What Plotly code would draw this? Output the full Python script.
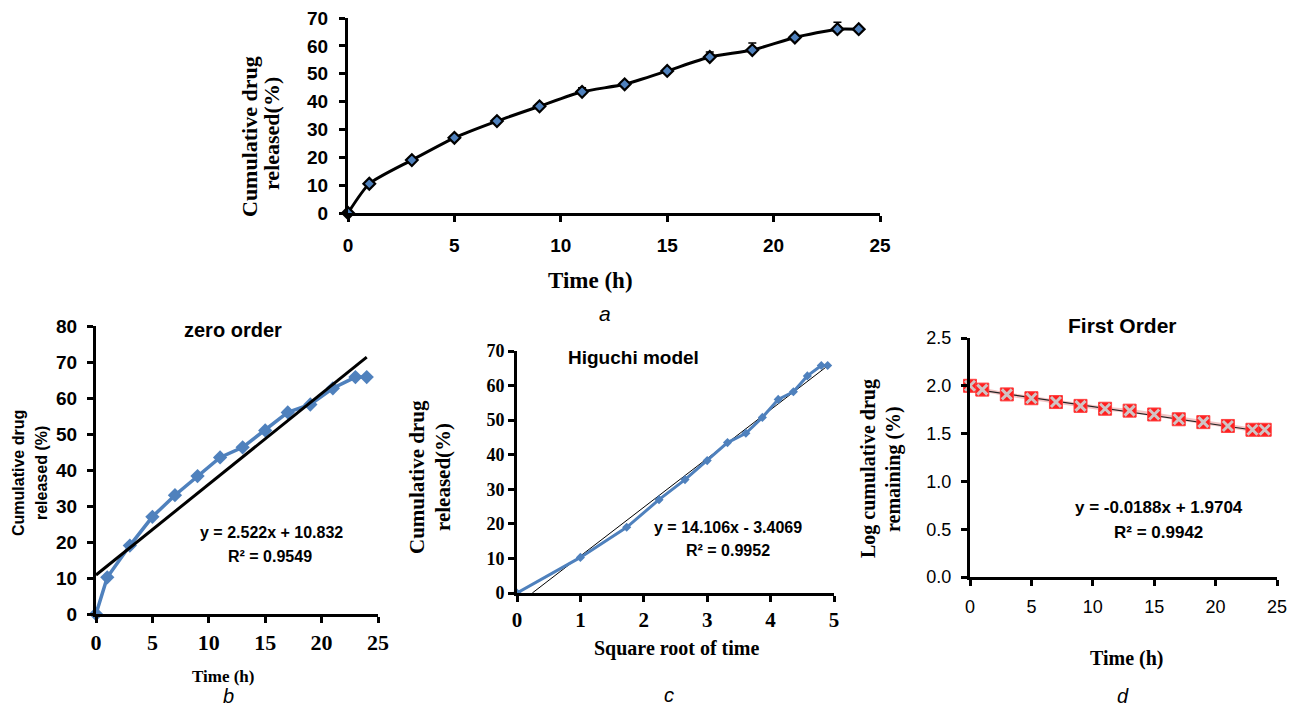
import plotly.graph_objects as go

# ---------------- data ----------------
time_h = [0, 1, 3, 5, 7, 9, 11, 13, 15, 17, 19, 21, 23, 24]
release_a = [0, 10.5, 19, 27, 33, 38.3, 43.5, 46.2, 51, 56, 58.5, 63, 66, 66]
err_a = [0, 0.5, 0.5, 0.6, 0.5, 0.6, 1.5, 0.8, 0.6, 1.8, 2.5, 0.8, 2.5, 0.5]
release_b = [0, 10.2, 19, 27, 33, 38.3, 43.5, 46.3, 51, 56, 58.2, 62.7, 65.8, 65.8]
sqrt_time = [0, 1, 1.73, 2.24, 2.65, 3, 3.32, 3.61, 3.87, 4.12, 4.36, 4.58, 4.80, 4.90]
release_c = [0, 10.3, 19, 27, 32.8, 38.3, 43.5, 46.2, 50.8, 56, 58.2, 62.8, 65.8, 65.8]
log_remaining = [2.0, 1.96, 1.91, 1.87, 1.83, 1.79, 1.76, 1.74, 1.70, 1.65, 1.62, 1.58, 1.54, 1.54]
zero_fit = (2.522, 10.832)
higuchi_fit = (14.106, -3.4069)
first_fit = (-0.0188, 1.9704)

W, H = 1298, 709
def X(px): return px / W
def Y(py): return 1 - py / H

BLUE = "#4f81bd"
SERIF = "Liberation Serif, Times New Roman, serif"
SANS = "Liberation Sans, Arial, sans-serif"
NARROW = "Liberation Sans Narrow, Liberation Sans, Arial, sans-serif"

fig = go.Figure()

# ---- panel a ----
fig.add_trace(go.Scatter(
    x=time_h, y=release_a, mode="lines+markers", xaxis="x", yaxis="y",
    line=dict(color="black", width=3, shape="spline", smoothing=0.6),
    marker=dict(symbol="diamond", size=9, color=BLUE, line=dict(color="black", width=2.2)),
    error_y=dict(type="data", symmetric=False, array=err_a, arrayminus=[0] * len(err_a),
                 color="black", thickness=1.5, width=4),
    cliponaxis=False, showlegend=False))

# ---- panel b ----
mb, bb = zero_fit
fx_b = [min(time_h), max(time_h)]
fig.add_trace(go.Scatter(
    x=time_h, y=release_b, mode="lines+markers", xaxis="x2", yaxis="y2",
    line=dict(color=BLUE, width=3.5),
    marker=dict(symbol="diamond", size=11, color=BLUE),
    cliponaxis=False, showlegend=False))
fig.add_trace(go.Scatter(
    x=fx_b, y=[mb * v + bb for v in fx_b], mode="lines", xaxis="x2", yaxis="y2",
    line=dict(color="black", width=3), cliponaxis=False, showlegend=False))

# ---- panel c ----
mc, bc = higuchi_fit
fx_c = [-bc / mc, max(sqrt_time)]
fig.add_trace(go.Scatter(
    x=fx_c, y=[mc * v + bc for v in fx_c], mode="lines", xaxis="x3", yaxis="y3",
    line=dict(color="black", width=1), cliponaxis=False, showlegend=False))
fig.add_trace(go.Scatter(
    x=sqrt_time, y=release_c, mode="lines+markers", xaxis="x3", yaxis="y3",
    line=dict(color=BLUE, width=3),
    marker=dict(symbol="diamond", size=7, color=BLUE),
    cliponaxis=False, showlegend=False))

# ---- panel d ----
md, bd = first_fit
fx_d = [min(time_h), max(time_h)]
fig.add_trace(go.Scatter(
    x=time_h, y=log_remaining, mode="lines", xaxis="x4", yaxis="y4",
    line=dict(color="rgba(230,150,150,0.55)", width=4),
    cliponaxis=False, showlegend=False))
fig.add_trace(go.Scatter(
    x=fx_d, y=[md * v + bd for v in fx_d], mode="lines", xaxis="x4", yaxis="y4",
    line=dict(color="#222222", width=1.2), cliponaxis=False, showlegend=False))
fig.add_trace(go.Scatter(
    x=time_h, y=log_remaining, mode="markers", xaxis="x4", yaxis="y4",
    marker=dict(symbol="square", size=13, color="#ff1f1f", line=dict(color="#ff4040", width=1)),
    cliponaxis=False, showlegend=False))
fig.add_trace(go.Scatter(
    x=time_h, y=log_remaining, mode="markers", xaxis="x4", yaxis="y4",
    marker=dict(symbol="x-thin-open", size=10, color="#d0c4c4", line=dict(color="#d0c4c4", width=3)),
    cliponaxis=False, showlegend=False))


def ax(domain, rng, dtick, font, standoff, anchor, ticklen=6, fmt=None):
    d = dict(domain=domain, range=rng, dtick=dtick, tick0=0, anchor=anchor,
             showgrid=False, zeroline=False, showline=True, linecolor="black", linewidth=3,
             ticks="outside", ticklen=ticklen, tickwidth=3, tickcolor="black",
             tickfont=font, ticklabelstandoff=standoff, fixedrange=True, automargin=False)
    if fmt:
        d["tickformat"] = fmt
    return d

fig.update_layout(
    template="none",
    width=W, height=H, margin=dict(l=0, r=0, t=0, b=0, autoexpand=False),
    paper_bgcolor="white", plot_bgcolor="white",
    xaxis=ax([X(348), X(880)], [0, 25], 5,
             dict(family=NARROW, size=19, color="black", weight="bold"), 7, "y"),
    yaxis=ax([Y(213), Y(18)], [0, 70], 10,
             dict(family=NARROW, size=19, color="black", weight="bold"), 7, "x"),
    xaxis2=ax([X(96), X(378)], [0, 25], 5,
              dict(family=SERIF, size=22, color="black", weight="bold"), 1, "y2"),
    yaxis2=ax([Y(614), Y(326)], [0, 80], 10,
              dict(family=SANS, size=19, color="black", weight="bold"), 6, "x2"),
    xaxis3=ax([X(517), X(834)], [0, 5], 1,
              dict(family=SERIF, size=21, color="black", weight="bold"), 0, "y3"),
    yaxis3=ax([Y(593), Y(351)], [0, 70], 10,
              dict(family=SERIF, size=18, color="black", weight="bold"), 0, "x3"),
    xaxis4=ax([X(970), X(1277)], [0, 25], 5,
              dict(family=SANS, size=18, color="black"), 5, "y4"),
    yaxis4=ax([Y(577), Y(338)], [0, 2.5], 0.5,
              dict(family=SANS, size=18, color="black"), 6, "x4", fmt=".1f"),
)

def note(text, xpx, ypx, family, size, bold=True, italic=False, angle=0, color="black"):
    fig.add_annotation(
        text=text, x=X(xpx), y=Y(ypx), xref="paper", yref="paper",
        xanchor="center", yanchor="middle", showarrow=False, textangle=angle,
        font=dict(family=family, size=size, color=color,
                  weight="bold" if bold else "normal",
                  style="italic" if italic else "normal"))

# panel a titles
note("Cumulative drug", 249, 137, SERIF, 22, angle=-90)
note("released(%)", 271, 134, SERIF, 22, angle=-90)
note("Time (h)", 590, 280, SERIF, 23)
note("a", 605, 313, SANS, 21, bold=False, italic=True)

# panel b
note("zero order", 233, 330, SANS, 20)
note("Cumulative drug", 18, 473, SANS, 16, angle=-90)
note("released (%)", 41, 473, SANS, 16, angle=-90)
note("y = 2.522x + 10.832", 271, 532, SANS, 16)
note("R² = 0.9549", 270, 556, SANS, 16)
note("Time (h)", 223, 676, SERIF, 17)
note("b", 228, 696, SANS, 20, bold=False, italic=True)

# panel c
note("Higuchi model", 633, 357, SANS, 19)
note("Cumulative drug", 417, 477, SERIF, 21, angle=-90)
note("released(%)", 443, 477, SERIF, 21, angle=-90)
note("y = 14.106x - 3.4069", 728, 527, SANS, 16)
note("R² = 0.9952", 728, 550, SANS, 16)
note("Square root of time", 677, 648, SERIF, 20)
note("c", 669, 695, SANS, 20, bold=False, italic=True)

# panel d
note("First Order", 1122, 326, SANS, 21)
note("Log cumulative drug", 868, 469, SERIF, 20, angle=-90)
note("remaining (%)", 893, 469, SERIF, 20, angle=-90)
note("y = -0.0188x + 1.9704", 1159, 507, SANS, 17)
note("R² = 0.9942", 1158, 532, SANS, 17)
note("Time (h)", 1127, 658, SERIF, 20)
note("d", 1123, 696, SANS, 20, bold=False, italic=True)

fig.write_html(
    "out.html",
    config={"displayModeBar": False},
    post_script="document.body.style.margin='0';document.body.style.overflow='hidden';",
)
